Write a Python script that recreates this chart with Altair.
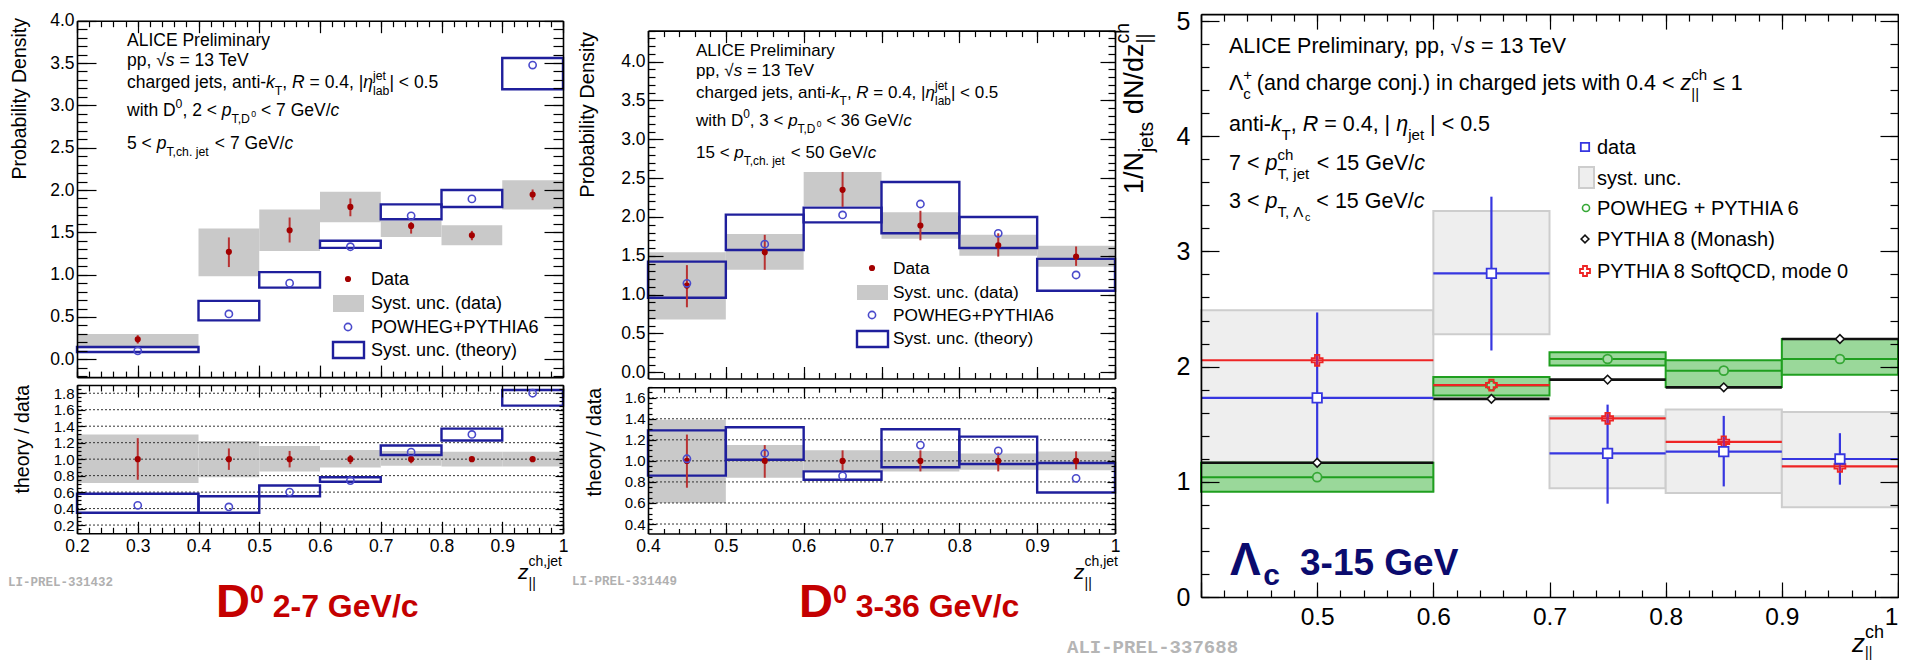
import altair as alt
import pandas as pd

W, H = 1891, 652
SANS = "Liberation Sans"
MONO = "Liberation Mono"

# ---------------- data: left panel (D0, 2-7 GeV/c) ----------------
L_lo = [0.2, 0.4, 0.5, 0.6, 0.7, 0.8, 0.9]
L_hi = [0.4, 0.5, 0.6, 0.7, 0.8, 0.9, 1.0]
L_x = [0.3, 0.45, 0.55, 0.65, 0.75, 0.85, 0.95]
L_data = [0.236, 1.27, 1.525, 1.80, 1.576, 1.466, 1.947]
L_stat_lo = [0.186, 1.09, 1.38, 1.69, 1.485, 1.407, 1.88]
L_stat_hi = [0.286, 1.44, 1.675, 1.90, 1.62, 1.517, 2.006]
L_syst_lo = [0.13, 0.98, 1.28, 1.62, 1.446, 1.348, 1.77]
L_syst_hi = [0.30, 1.545, 1.77, 1.98, 1.64, 1.584, 2.116]
L_th = [0.10, 0.536, 0.90, 1.33, 1.695, 1.895, 3.476]
L_th_lo = [0.087, 0.46, 0.847, 1.316, 1.655, 1.80, 3.19]
L_th_hi = [0.146, 0.69, 1.03, 1.40, 1.83, 2.0, 3.56]
L_r_data = [1.0, 1.0, 1.0, 1.0, 1.0, 1.0, 1.0]
L_r_stat_lo = [0.75, 0.87, 0.90, 0.94, 0.95, 0.97, 0.97]
L_r_stat_hi = [1.255, 1.13, 1.10, 1.05, 1.04, 1.03, 1.03]
L_r_syst_lo = [0.71, 0.78, 0.85, 0.90, 0.92, 0.91, 0.91]
L_r_syst_hi = [1.30, 1.22, 1.16, 1.11, 1.10, 1.09, 1.09]
L_r_th = [0.44, 0.42, 0.60, 0.74, 1.085, 1.30, 1.80]
L_r_th_lo = [0.35, 0.35, 0.55, 0.725, 1.05, 1.226, 1.65]
L_r_th_hi = [0.58, 0.55, 0.68, 0.78, 1.166, 1.37, 1.84]
L_grid = [0.2, 0.4, 0.6, 0.8, 1.0, 1.2, 1.4, 1.6, 1.8]

# ---------------- data: middle panel (D0, 3-36 GeV/c) ----------------
M_lo = [0.4, 0.5, 0.6, 0.7, 0.8, 0.9]
M_hi = [0.5, 0.6, 0.7, 0.8, 0.9, 1.0]
M_x = [0.45, 0.55, 0.65, 0.75, 0.85, 0.95]
M_data = [1.116, 1.545, 2.35, 1.89, 1.635, 1.49]
M_stat_lo = [0.837, 1.32, 2.13, 1.70, 1.49, 1.37]
M_stat_hi = [1.38, 1.77, 2.58, 2.08, 1.79, 1.62]
M_syst_lo = [0.68, 1.32, 2.14, 1.72, 1.50, 1.36]
M_syst_hi = [1.545, 1.78, 2.58, 2.06, 1.77, 1.63]
M_th = [1.146, 1.65, 2.026, 2.167, 1.79, 1.253]
M_th_lo = [0.96, 1.575, 1.93, 1.79, 1.60, 1.05]
M_th_hi = [1.425, 2.03, 2.12, 2.45, 2.0, 1.46]
M_r_data = [1.0, 1.0, 1.0, 1.0, 1.0, 1.0]
M_r_stat_lo = [0.745, 0.84, 0.91, 0.90, 0.90, 0.92]
M_r_stat_hi = [1.25, 1.15, 1.10, 1.10, 1.08, 1.09]
M_r_syst_lo = [0.60, 0.84, 0.91, 0.90, 0.915, 0.91]
M_r_syst_hi = [1.39, 1.15, 1.10, 1.095, 1.07, 1.09]
M_r_th = [1.02, 1.07, 0.857, 1.15, 1.095, 0.834]
M_r_th_lo = [0.86, 1.01, 0.82, 0.94, 0.97, 0.70]
M_r_th_hi = [1.29, 1.32, 0.90, 1.30, 1.23, 0.98]
M_grid = [0.4, 0.6, 0.8, 1.0, 1.2, 1.4, 1.6]

# ---------------- data: right panel (Lambda_c, 3-15 GeV) ----------------
R_lo = [0.4, 0.6, 0.7, 0.8, 0.9]
R_hi = [0.6, 0.7, 0.8, 0.9, 1.0]
R_x = [0.5, 0.65, 0.75, 0.85, 0.95]
R_data = [1.728, 2.81, 1.246, 1.262, 1.198]
R_stat_lo = [0.99, 2.14, 0.81, 0.96, 0.975]
R_stat_hi = [2.47, 3.475, 1.67, 1.572, 1.422]
R_syst_lo = [0.92, 2.28, 0.944, 0.903, 0.78]
R_syst_hi = [2.49, 3.35, 1.57, 1.628, 1.606]
R_pow = [1.04, 1.835, 2.066, 1.965, 2.066]
R_pow_lo = [0.913, 1.75, 2.01, 1.824, 1.93]
R_pow_hi = [1.165, 1.91, 2.124, 2.055, 2.24]
R_mon = [1.165, 1.72, 1.887, 1.82, 2.24]
R_soft = [2.055, 1.84, 1.55, 1.347, 1.134]
R_soft_lo = [2.0, 1.80, 1.50, 1.31, 1.09]
R_soft_hi = [2.11, 1.88, 1.60, 1.38, 1.18]

# ---------------- pads (domain + pixel range) ----------------
PADS = {
    "LT": dict(xd=[0.2, 1.0], xr=[69, 555], yd=[-0.21, 4.0], yr=[369.1, 12.7]),
    "LB": dict(xd=[0.2, 1.0], xr=[69, 555], yd=[0.1, 1.9], yr=[525.3, 377.0]),
    "MT": dict(xd=[0.4, 1.0], xr=[640, 1107], yd=[-0.08, 4.4], yr=[370.5, 22.6]),
    "MB": dict(xd=[0.4, 1.0], xr=[640, 1107], yd=[0.31, 1.70], yr=[525.5, 379.2]),
    "R": dict(xd=[0.4, 1.0], xr=[1193, 1890], yd=[0.0, 5.06], yr=[589.0, 6.1]),
}


def sx(p):
    return alt.Scale(domain=p["xd"], range=p["xr"], zero=False, nice=False)


def sy(p):
    return alt.Scale(domain=p["yd"], range=p["yr"], zero=False, nice=False)


def rects(p, df, lo, hi, ylo, yhi, **mk):
    return alt.Chart(df).mark_rect(**mk).encode(
        x=alt.X(lo, type="quantitative", scale=sx(p), axis=None), x2=alt.X2(hi),
        y=alt.Y(ylo, type="quantitative", scale=sy(p), axis=None), y2=alt.Y2(yhi))


def vrules(p, df, x, ylo, yhi, **mk):
    return alt.Chart(df).mark_rule(**mk).encode(
        x=alt.X(x, type="quantitative", scale=sx(p), axis=None),
        y=alt.Y(ylo, type="quantitative", scale=sy(p), axis=None), y2=alt.Y2(yhi))


def hrules(p, df, xlo, xhi, y, **mk):
    return alt.Chart(df).mark_rule(**mk).encode(
        x=alt.X(xlo, type="quantitative", scale=sx(p), axis=None), x2=alt.X2(xhi),
        y=alt.Y(y, type="quantitative", scale=sy(p), axis=None))


def pts(p, df, x, y, **mk):
    return alt.Chart(df).mark_point(**mk).encode(
        x=alt.X(x, type="quantitative", scale=sx(p), axis=None),
        y=alt.Y(y, type="quantitative", scale=sy(p), axis=None))


def seq(a, b, s):
    n = int(round((b - a) / s))
    return [round(a + i * s, 4) for i in range(n + 1)]


def frame_axes(p, xmaj, xmin, ymaj, ymin, xts, yts, xlab=None, ylab=None,
               xfs=17.5, yfs=17.5, xpad=4, ypad=3, yfmt=".1f", xlab_right=None):
    x0, x1 = p["xr"]
    yb, yt = p["yr"]
    inx = lambda v: [t for t in v if p["xd"][0] - 1e-9 <= t <= p["xd"][1] + 1e-9]
    iny = lambda v: [t for t in v if p["yd"][0] - 1e-9 <= t <= p["yd"][1] + 1e-9]
    base = dict(title=None, grid=False, zindex=2, tickColor="black", domainColor="black",
                tickWidth=1.2, domainWidth=1.6, labelFont=SANS, labelColor="black",
                labelFlush=False, labelOverlap=False)

    def ax(**kw):
        d = dict(base)
        d.update(kw)
        return alt.Axis(**d)

    specs = [
        ("y", ax(orient="right", offset=x0 - W, values=iny(ymaj), labels=False, tickSize=yts[0], domain=True)),
        ("y", ax(orient="right", offset=x0 - W, values=iny(ymin), labels=False, tickSize=yts[1], domain=False)),
        ("y", ax(orient="left", offset=-x1, values=iny(ymaj), labels=False, tickSize=yts[0], domain=True)),
        ("y", ax(orient="left", offset=-x1, values=iny(ymin), labels=False, tickSize=yts[1], domain=False)),
        ("x", ax(orient="top", offset=-yb, values=inx(xmaj), labels=False, tickSize=xts[0], domain=True)),
        ("x", ax(orient="top", offset=-yb, values=inx(xmin), labels=False, tickSize=xts[1], domain=False)),
        ("x", ax(orient="bottom", offset=yt - H, values=inx(xmaj), labels=False, tickSize=xts[0], domain=True)),
        ("x", ax(orient="bottom", offset=yt - H, values=inx(xmin), labels=False, tickSize=xts[1], domain=False)),
    ]
    lab_expr = "datum.value > 0.999 ? '1' : format(datum.value, '.1f')"
    if ylab:
        specs.append(("y", ax(orient="left", offset=-x0, values=ylab, ticks=False, tickSize=0, domain=False,
                              labels=True, labelPadding=ypad, labelFontSize=yfs, format=yfmt)))
    if xlab:
        specs.append(("x", ax(orient="bottom", offset=yb - H, values=xlab, ticks=False, tickSize=0, domain=False,
                              labels=True, labelPadding=xpad, labelFontSize=xfs, labelExpr=lab_expr)))
    if xlab_right:
        specs.append(("x", ax(orient="bottom", offset=yb - H, values=xlab_right, ticks=False, tickSize=0,
                              domain=False, labels=True, labelPadding=xpad, labelFontSize=xfs,
                              labelAlign="right", labelExpr=lab_expr)))
    df = pd.DataFrame({"ax": [p["xd"][0]], "ay": [p["yd"][0]]})
    out = []
    for ch, a in specs:
        out.append(alt.Chart(df).mark_point(opacity=0).encode(
            x=alt.X("ax:Q", scale=sx(p), axis=a if ch == "x" else None),
            y=alt.Y("ay:Q", scale=sy(p), axis=a if ch == "y" else None)))
    return out


# ---------------- rich text helpers ----------------
_W = {c: 556 for c in "0123456789"}
_W.update({" ": 278, "!": 278, "(": 333, ")": 333, "+": 584, ",": 278, "-": 333, ".": 278, "/": 278,
           ":": 278, "<": 584, "=": 584, ">": 584, "|": 260, "√": 549, "≤": 549, "η": 560, "Λ": 667})
_W.update(dict(A=667, B=667, C=722, D=722, E=667, F=611, G=778, H=722, I=278, J=500, K=667, L=556, M=833,
               N=722, O=778, P=667, Q=778, R=722, S=667, T=611, U=722, V=667, W=944, X=667, Y=667, Z=611))
_W.update(dict(a=556, b=556, c=500, d=556, e=556, f=278, g=556, h=556, i=222, j=222, k=500, l=222, m=833,
               n=556, o=556, p=556, q=556, r=333, s=500, t=278, u=556, v=500, w=722, x=500, y=500, z=500))
_WB = dict(_W)
_WB.update(dict(A=722, C=722, D=722, G=778, V=667, c=556, e=556))
_WB.update({"Λ": 722})


def tw(t, size, bold=False):
    tab = _WB if bold else _W
    return sum(tab.get(c, 556) for c in t) / 1000.0 * size


def seg(t, size, dy=0.0, it=False, bold=False, adv=True):
    return dict(t=t, size=size, dy=dy, it=it, bold=bold, adv=adv)


def latex(fs, spec):
    out = []
    for kind, t in spec:
        if kind == "n":
            out.append(seg(t, fs))
        elif kind == "i":
            out.append(seg(t, fs, it=True))
        elif kind == "sub":
            out.append(seg(t, 0.7 * fs, dy=0.42 * fs))
        elif kind == "sub0":
            out.append(seg(t, 0.7 * fs, dy=0.42 * fs, adv=False))
        elif kind == "sup":
            out.append(seg(t, 0.7 * fs, dy=-0.45 * fs))
        elif kind == "sup0":
            out.append(seg(t, 0.7 * fs, dy=-0.45 * fs, adv=False))
        elif kind == "sub2":
            out.append(seg(t, 0.5 * fs, dy=0.62 * fs))
        elif kind == "supsub":
            out.append(seg(t, 0.5 * fs, dy=0.08 * fs))
    return out


def rich(x, y, segs, color="black", angle=0, font=SANS):
    # leading/trailing blanks are trimmed by the renderer, so they are turned into offsets
    out = []
    cur = 0.0
    for s in segs:
        t = s["t"]
        lead = len(t) - len(t.lstrip(" "))
        txt = t.strip(" ")
        if txt:
            out.append(alt.Chart().mark_text(
                text=txt, font=font, fontSize=s["size"],
                fontStyle="italic" if s["it"] else "normal",
                fontWeight="bold" if s["bold"] else "normal",
                align="left", baseline="alphabetic",
                dx=round(cur + tw(" " * lead, s["size"], s["bold"]), 2), dy=round(s["dy"], 2),
                angle=angle, color=color).encode(x=alt.value(x), y=alt.value(y)))
        if s["adv"]:
            cur += tw(t, s["size"], s["bold"])
    return out


def label(x, y, t, size, color="black", angle=0, align="left", font=SANS, weight="normal"):
    return alt.Chart().mark_text(text=t, font=font, fontSize=size, fontWeight=weight, align=align,
                                 baseline="alphabetic", angle=angle, color=color).encode(
        x=alt.value(x), y=alt.value(y))


# ---------------- colours ----------------
C_GRAY = "#c9c9c9"
C_RED = "#a30000"
C_REDBAR = "#b83232"
C_BOX = "#1f1f9c"
C_CIRC = "#4a4acb"
C_TXTRED = "#c40000"

layers = []


def d0_panel(pt, pb, lo, hi, xc, data, slo, shi, sylo, syhi, th, tlo, thi,
             rdata, rslo, rshi, rsylo, rsyhi, rth, rtlo, rthi, grid):
    top = pd.DataFrame(dict(lo=lo, hi=hi, xc=xc, v=data, slo=slo, shi=shi, sylo=sylo, syhi=syhi,
                            th=th, tlo=tlo, thi=thi))
    bot = pd.DataFrame(dict(lo=lo, hi=hi, xc=xc, v=rdata, slo=rslo, shi=rshi, sylo=rsylo, syhi=rsyhi,
                            th=rth, tlo=rtlo, thi=rthi))
    g = pd.DataFrame(dict(g=grid, a=[pb["xd"][0]] * len(grid), b=[pb["xd"][1]] * len(grid)))
    out = []
    for p, df in ((pt, top), (pb, bot)):
        out.append(rects(p, df, "lo", "hi", "sylo", "syhi", color=C_GRAY))
        if p is pb:
            out.append(hrules(p, g, "a", "b", "g", color="#333333", strokeWidth=1, strokeDash=[2, 2]))
        out.append(rects(p, df, "lo", "hi", "tlo", "thi", fill="white", fillOpacity=0,
                         stroke=C_BOX, strokeWidth=2.4))
        out.append(vrules(p, df, "xc", "slo", "shi", color=C_REDBAR, strokeWidth=2))
        out.append(pts(p, df, "xc", "v", shape="circle", filled=True, color=C_RED, size=38, opacity=1))
        out.append(pts(p, df, "xc", "th", shape="circle", filled=False, color=C_CIRC, size=52,
                       strokeWidth=1.6, opacity=1))
    return out


# ---------------- left panel ----------------
PLT, PLB = PADS["LT"], PADS["LB"]
layers += d0_panel(PLT, PLB, L_lo, L_hi, L_x, L_data, L_stat_lo, L_stat_hi, L_syst_lo, L_syst_hi,
                   L_th, L_th_lo, L_th_hi, L_r_data, L_r_stat_lo, L_r_stat_hi, L_r_syst_lo,
                   L_r_syst_hi, L_r_th, L_r_th_lo, L_r_th_hi, L_grid)
layers += frame_axes(PLT, seq(0.2, 1.0, 0.1), seq(0.2, 1.0, 0.02), seq(0, 4, 0.5), seq(-0.2, 4.0, 0.1),
                     (12, 6), (19, 10), ylab=seq(0, 4, 0.5))
layers += frame_axes(PLB, seq(0.2, 1.0, 0.1), seq(0.2, 1.0, 0.02), seq(0.2, 1.8, 0.2), seq(0.1, 1.9, 0.05),
                     (12, 6), (8, 4), xlab=seq(0.2, 1.0, 0.1), ylab=seq(0.2, 1.8, 0.2), yfs=15)

# ---------------- middle panel ----------------
PMT, PMB = PADS["MT"], PADS["MB"]
layers += d0_panel(PMT, PMB, M_lo, M_hi, M_x, M_data, M_stat_lo, M_stat_hi, M_syst_lo, M_syst_hi,
                   M_th, M_th_lo, M_th_hi, M_r_data, M_r_stat_lo, M_r_stat_hi, M_r_syst_lo,
                   M_r_syst_hi, M_r_th, M_r_th_lo, M_r_th_hi, M_grid)
layers += frame_axes(PMT, seq(0.4, 1.0, 0.1), seq(0.4, 1.0, 0.02), seq(0, 4, 0.5), seq(0.0, 4.4, 0.1),
                     (12, 6), (15, 7), ylab=seq(0, 4, 0.5))
layers += frame_axes(PMB, seq(0.4, 1.0, 0.1), seq(0.4, 1.0, 0.02), seq(0.4, 1.6, 0.2), seq(0.35, 1.7, 0.05),
                     (11, 5), (8, 4), xlab=seq(0.4, 1.0, 0.1), ylab=seq(0.4, 1.6, 0.2), yfs=15)

# ---------------- right panel ----------------
PR = PADS["R"]
rdf = pd.DataFrame(dict(lo=R_lo, hi=R_hi, xc=R_x, v=R_data, slo=R_stat_lo, shi=R_stat_hi,
                        sylo=R_syst_lo, syhi=R_syst_hi, pw=R_pow, pwlo=R_pow_lo, pwhi=R_pow_hi,
                        mon=R_mon, soft=R_soft, sflo=R_soft_lo, sfhi=R_soft_hi))
C_RB = "#3636e0"
C_RR = "#ee2424"
C_G = "#1f9f1f"
layers += [
    rects(PR, rdf, "lo", "hi", "sylo", "syhi", fill="#eeeeee", stroke="#cdcdcd", strokeWidth=2),
    hrules(PR, rdf, "lo", "hi", "v", color=C_RB, strokeWidth=2.2),
    vrules(PR, rdf, "xc", "slo", "shi", color=C_RB, strokeWidth=2.2),
    rects(PR, rdf, "lo", "hi", "pwlo", "pwhi", fill="#9ad89a", stroke=C_G, strokeWidth=2),
    hrules(PR, rdf, "lo", "hi", "pw", color=C_G, strokeWidth=2),
    hrules(PR, rdf, "lo", "hi", "mon", color="#111111", strokeWidth=2.6),
    hrules(PR, rdf, "lo", "hi", "soft", color=C_RR, strokeWidth=2.2),
    vrules(PR, rdf, "xc", "sflo", "sfhi", color="#b0207a", strokeWidth=2),
    pts(PR, rdf, "xc", "pw", shape="circle", filled=True, fill="#a8dca8", stroke="#36a836",
        strokeWidth=1.8, size=80, opacity=1),
    pts(PR, rdf, "xc", "mon", shape="diamond", filled=True, fill="white", stroke="#111111",
        strokeWidth=1.6, size=75, opacity=1),
    pts(PR, rdf, "xc", "soft", shape="cross", filled=False, stroke=C_RR, strokeWidth=1.8,
        size=120, opacity=1),
    pts(PR, rdf, "xc", "v", shape="square", filled=True, fill="white", stroke=C_RB,
        strokeWidth=1.8, size=90, opacity=1),
]
layers += frame_axes(PR, seq(0.4, 1.0, 0.1), seq(0.4, 1.0, 0.02), seq(0, 5, 1), seq(0, 5, 0.2),
                     (15, 7), (18, 8), xlab=seq(0.5, 0.9, 0.1), ylab=seq(0, 5, 1),
                     xfs=24.5, yfs=25, xpad=8, ypad=11, yfmt="d", xlab_right=[1.0])

# ---------------- annotations: left & middle ----------------
def d0_text(x, ys, fs, dlo, dhi, jlo, jhi):
    out = []
    out += rich(x, ys[0], latex(fs, [("n", "ALICE Preliminary")]))
    out += rich(x, ys[1], latex(fs, [("n", "pp, √"), ("i", "s"), ("n", " = 13 TeV")]))
    out += rich(x, ys[2], latex(fs, [("n", "charged jets, anti-"), ("i", "k"), ("sub", "T"), ("n", ", "),
                                     ("i", "R"), ("n", " = 0.4, |"), ("i", "η"), ("sup0", "jet"),
                                     ("sub", "lab"), ("n", "| < 0.5")]))
    out += rich(x, ys[3], latex(fs, [("n", "with D"), ("sup", "0"), ("n", ", %s < " % dlo), ("i", "p"),
                                     ("sub", "T,D"), ("supsub", "0"), ("n", " < %s GeV/" % dhi), ("i", "c")]))
    out += rich(x, ys[4], latex(fs, [("n", "%s < " % jlo), ("i", "p"), ("sub", "T,ch. jet"),
                                     ("n", " < %s GeV/" % jhi), ("i", "c")]))
    return out


layers += d0_text(119, [38, 58, 80, 108, 141], 17.5, "2", "7", "5", "7")
layers += d0_text(688, [48, 68, 90, 118, 150], 17, "3", "36", "15", "50")

LEG_D0 = ["Data", "Syst. unc. (data)", "POWHEG+PYTHIA6", "Syst. unc. (theory)"]


def d0_legend(mx, tx, rows, gy, by, fs):
    out = [
        alt.Chart().mark_point(shape="circle", filled=True, color=C_RED, size=38, opacity=1).encode(
            x=alt.value(mx), y=alt.value(rows[0] - 6)),
        alt.Chart().mark_rect(color=C_GRAY).encode(x=alt.value(mx - 15), x2=alt.value(mx + 16),
                                                   y=alt.value(gy[0]), y2=alt.value(gy[1])),
        alt.Chart().mark_point(shape="circle", filled=False, color=C_CIRC, size=52, strokeWidth=1.6,
                               opacity=1).encode(x=alt.value(mx), y=alt.value(rows[2] - 6)),
        alt.Chart().mark_rect(fill="white", fillOpacity=0, stroke=C_BOX, strokeWidth=2.4).encode(
            x=alt.value(mx - 15), x2=alt.value(mx + 16), y=alt.value(by[0]), y2=alt.value(by[1])),
    ]
    for t, yy in zip(LEG_D0, rows):
        out.append(label(tx, yy, t, fs))
    return out


layers += d0_legend(340, 363, [277, 301, 325, 348], (287, 304), (334, 350), 18)
layers += d0_legend(864, 885, [266, 290, 313, 336], (277, 292), (323, 339), 17.3)

# axis titles (left / middle)
layers += [
    label(18, 10, "Probability Density", 19.5, angle=270, align="right"),
    label(21, 377, "theory / data", 19.5, angle=270, align="right"),
    label(586, 24, "Probability Density", 20, angle=270, align="right"),
    label(593, 380, "theory / data", 19.5, angle=270, align="right"),
]
for zx in (510, 1066):
    layers += rich(zx, 571, [seg("z", 21, it=True), seg("ch,jet", 14, dy=-13, adv=False),
                             seg("||", 14, dy=9)])
layers += [
    label(0, 578, "LI-PREL-331432", 12.5, color="#b0b0b0", font=MONO, weight="bold"),
    label(564, 577, "LI-PREL-331449", 12.5, color="#b0b0b0", font=MONO, weight="bold"),
    label(1059, 645, "ALI-PREL-337688", 19, color="#b5b5b5", font=MONO, weight="bold"),
]
for dx0, rng in ((208, "2-7 GeV/c"), (791, "3-36 GeV/c")):
    layers += rich(dx0, 609, [seg("D", 47, bold=True), seg("0", 25, dy=-14, bold=True),
                              seg(" " + rng, 32, bold=True)], color=C_TXTRED)

# ---------------- annotations: right ----------------
FR = 21.5
RX = 1221
layers += rich(RX, 44.5, latex(FR, [("n", "ALICE Preliminary, pp, √"), ("i", "s"), ("n", " = 13 TeV")]))
layers += rich(RX, 81.5, latex(FR, [("n", "Λ"), ("sup0", "+"), ("sub", "c"),
                                    ("n", " (and charge conj.) in charged jets with 0.4 < "),
                                    ("i", "z"), ("sub0", "||"), ("sup", "ch"), ("n", " ≤ 1")]))
layers += rich(RX, 122.5, latex(FR, [("n", "anti-"), ("i", "k"), ("sub", "T"), ("n", ", "), ("i", "R"),
                                     ("n", " = 0.4, | "), ("i", "η"), ("sub", "jet"), ("n", " | < 0.5")]))
layers += rich(RX, 161.5, latex(FR, [("n", "7 < "), ("i", "p"), ("sup0", "ch"), ("sub", "T, jet"),
                                     ("n", " < 15 GeV/"), ("i", "c")]))
layers += rich(RX, 199.5, latex(FR, [("n", "3 < "), ("i", "p"), ("sub", "T, Λ"), ("sub2", "c"),
                                     ("n", " < 15 GeV/"), ("i", "c")]))

LEG_R = ["data", "syst. unc.", "POWHEG + PYTHIA 6", "PYTHIA 8 (Monash)", "PYTHIA 8 SoftQCD, mode 0"]
LEG_R_Y = [146, 177, 207, 238, 270]
MX = 1577
layers += [
    alt.Chart().mark_point(shape="square", filled=True, fill="white", stroke=C_RB, strokeWidth=1.8,
                           size=70, opacity=1).encode(x=alt.value(MX), y=alt.value(139)),
    alt.Chart().mark_rect(fill="#eeeeee", stroke="#cdcdcd", strokeWidth=2).encode(
        x=alt.value(1571), x2=alt.value(1586), y=alt.value(159), y2=alt.value(180)),
    alt.Chart().mark_point(shape="circle", filled=False, stroke="#36a836", strokeWidth=1.6,
                           size=50, opacity=1).encode(x=alt.value(MX + 1), y=alt.value(200)),
    alt.Chart().mark_point(shape="diamond", filled=False, stroke="#111111", strokeWidth=1.6,
                           size=60, opacity=1).encode(x=alt.value(MX), y=alt.value(231)),
    alt.Chart().mark_point(shape="cross", filled=False, stroke=C_RR, strokeWidth=1.8,
                           size=100, opacity=1).encode(x=alt.value(MX), y=alt.value(263)),
]
for t, yy in zip(LEG_R, LEG_R_Y):
    layers.append(label(1589, yy, t, 20))

# right y title (rotated, rich)
layers += rich(1135, 186, [seg("1/N", 27), seg("jets", 19.5, dy=10), seg(" dN/dz", 27),
                           seg("ch", 19.5, dy=-14, adv=False), seg("||", 19.5, dy=8)], angle=270)
# right x title
layers += rich(1844, 644, [seg("z", 26, it=True), seg("ch", 18, dy=-14, adv=False), seg("||", 14, dy=4.5)])

# Lambda_c label
C_NAVY = "#0b0b6e"
layers += rich(1222, 567, [seg("Λ", 46, bold=True), seg("c", 30, dy=10, bold=True)], color=C_NAVY)
layers.append(label(1292, 567, "3-15 GeV", 37, color=C_NAVY, weight="bold"))

chart = alt.layer(*layers, data=alt.Data(values=[{"a": 0}])).resolve_scale(
    x="independent", y="independent").resolve_axis(x="independent", y="independent").properties(
    width=W, height=H, autosize=alt.AutoSizeParams(type="none"), padding=0, background="white"
).configure_view(stroke=None)

chart.save("out.html", embed_options={"renderer": "svg", "actions": False})
